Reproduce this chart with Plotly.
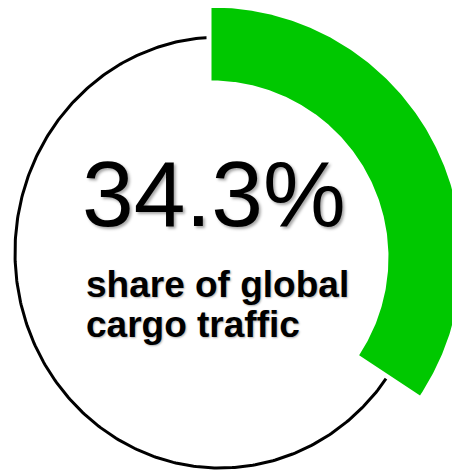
import numpy as np
import plotly.graph_objects as go

# ---- data ----
share_pct = [34.3]
share_label = ["34.3%"]
caption_lines = ["share of global", "cargo traffic"]

# ---- geometry / style ----
W, H = 460, 472
OFF = 8                        # page body margin of the html page
CX, CY = 211.5, 257.5          # centre of the green gauge arc
R_OUT, R_IN = 250, 177         # gauge band radii
ECX, ECY, ERX, ERY = 220, 252.5, 205, 215.5   # thin outline ellipse
GAP_DEG = 1.3
GREEN = "#00c800"

frac = share_pct[0] / 100.0
end = frac * 2 * np.pi


def band(a0, a1, r_in, r_out, n=240):
    t = np.linspace(a0, a1, n)
    xo = CX + r_out * np.sin(t)
    yo = CY - r_out * np.cos(t)
    xi = CX + r_in * np.sin(t[::-1])
    yi = CY - r_in * np.cos(t[::-1])
    x = np.concatenate([xo, xi, xo[:1]])
    y = np.concatenate([yo, yi, yo[:1]])
    return x, y


fig = go.Figure()

# thin black outline
s = np.linspace(0, 2 * np.pi, 500)
fig.add_trace(go.Scatter(
    x=ECX + ERX * np.cos(s), y=ECY + ERY * np.sin(s),
    mode="lines", line=dict(color="black", width=3),
    hoverinfo="skip", showlegend=False))

# white mask around the gauge (gap between outline and arc)
g = np.deg2rad(GAP_DEG)
mx, my = band(-g, end + g, R_IN - 20, R_OUT + 20)
fig.add_trace(go.Scatter(
    x=mx, y=my, mode="lines", fill="toself", fillcolor="white",
    line=dict(color="white", width=0), hoverinfo="skip", showlegend=False))

# green gauge arc
gx, gy = band(0, end, R_IN, R_OUT)
fig.add_trace(go.Scatter(
    x=gx, y=gy, mode="lines", fill="toself", fillcolor=GREEN,
    line=dict(color=GREEN, width=0), hoverinfo="skip", showlegend=False))

fig.add_annotation(
    x=214, y=194, xref="x", yref="y", text=share_label[0], showarrow=False,
    xanchor="center", yanchor="middle",
    font=dict(family="Liberation Sans, Arial", size=93, color="black",
              shadow="2px 2px 3px rgba(0,0,0,0.35)"))

for i, line in enumerate(caption_lines):
    fig.add_annotation(
        x=84, y=284 + 40 * i, xref="x", yref="y", text=line,
        showarrow=False, xanchor="left", yanchor="middle", align="left",
        font=dict(family="Liberation Sans, Arial", size=37, color="black",
                  weight="bold", shadow="1px 1px 2px rgba(0,0,0,0.3)"))

fig.update_layout(
    width=W, height=H, margin=dict(l=0, r=0, t=0, b=0),
    paper_bgcolor="white", plot_bgcolor="white",
    xaxis=dict(range=[OFF, W + OFF], visible=False, fixedrange=True),
    yaxis=dict(range=[H + OFF, OFF], visible=False, fixedrange=True),
)

fig.write_html("out.html")
